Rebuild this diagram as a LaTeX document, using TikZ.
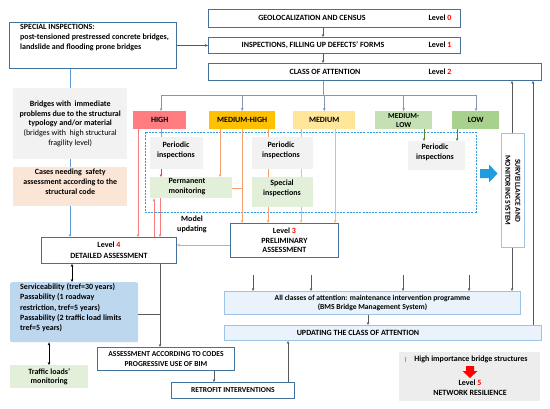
\documentclass[tikz,border=0pt]{standalone}
\usepackage{fontspec}
\setmainfont{Carlito}
\usetikzlibrary{arrows.meta}
\definecolor{bdr}{HTML}{41719C}
\definecolor{lbdr}{HTML}{9DC3E6}
\definecolor{cHigh}{HTML}{FF7C80}
\definecolor{cMH}{HTML}{FFC000}
\definecolor{cMed}{HTML}{FFE699}
\definecolor{cML}{HTML}{C5E0B4}
\definecolor{cLow}{HTML}{A9D18E}
\definecolor{cGray}{HTML}{F2F2F2}
\definecolor{cPeach}{HTML}{FBE5D6}
\definecolor{cGreen}{HTML}{E2F0D9}
\definecolor{cServ}{HTML}{BDD7EE}
\definecolor{cMaint}{HTML}{EAF3FB}
\definecolor{cHimp}{HTML}{EDEDED}
\definecolor{cBranch}{HTML}{8497B0}
\definecolor{cRed}{HTML}{F47C7C}
\definecolor{cRedA}{HTML}{FF3B3B}
\definecolor{cOr}{HTML}{F4A070}
\definecolor{cYel}{HTML}{F2C14E}
\definecolor{cGrn}{HTML}{548235}
\definecolor{cDash}{HTML}{2E9BDA}
\definecolor{cBlueA}{HTML}{1F9BDE}
\definecolor{cLine}{HTML}{595959}
\definecolor{cLblue}{HTML}{5B9BD5}
\definecolor{lvred}{HTML}{FF0000}
\begin{document}
\begin{tikzpicture}[x=1pt,y=-1pt,
  every node/.style={font=\fontsize{8}{10}\selectfont\bfseries, inner sep=0pt},
  box/.style={draw=bdr, line width=0.9pt, fill=white, anchor=north west, align=center},
  lbox/.style={draw=lbdr, line width=0.9pt, anchor=north west, align=center},
  fbox/.style={anchor=north west, align=center},
  tip/.style={-{Stealth[length=3pt,width=2.6pt]}},
  dtip/.style={{Stealth[length=3pt,width=2.6pt]}-{Stealth[length=3pt,width=2.6pt]}},
  gline/.style={draw=cLine, line width=0.6pt},
  bline/.style={draw=cBranch, line width=0.9pt},
  rline/.style={draw=cRed, line width=0.8pt},
  oline/.style={draw=cOr, line width=0.8pt},
  yline/.style={draw=cYel, line width=0.8pt},
]
\useasboundingbox (0,0) rectangle (550,408);

% top boxes
\node[box, minimum width=252, minimum height=18] (geo) at (208,9) {};
\node at (312,18) {GEOLOCALIZATION AND CENSUS};
\node at (440,18) {Level \textcolor{lvred}{0}};
\node[box, minimum width=252, minimum height=16] (insp) at (208,37) {};
\node at (313,45) {INSPECTIONS, FILLING UP DEFECTS’ FORMS};
\node at (440,45) {Level \textcolor{lvred}{1}};
\node[box, minimum width=333, minimum height=17] (cls) at (208,63) {};
\node at (325,72) {CLASS OF ATTENTION};
\node at (440,72) {Level \textcolor{lvred}{2}};

% left column
\node[box, minimum width=167, minimum height=46] (spec) at (9,22) {};
\node[anchor=north west, align=left] at (20,24) {SPECIAL INSPECTIONS:\\post-tensioned prestressed concrete bridges,\\landslide and flooding prone bridges};
\node[fbox, fill=cGray, minimum width=114, minimum height=71, font=\fontsize{8}{9.8}\selectfont\bfseries] (grayb) at (13,88)
  {Bridges with\ \ immediate\\problems due to the structural\\typology and/or material\\\mdseries(bridges with\ \ high structural\\\mdseries fragility level)};
\node[fbox, fill=cPeach, minimum width=114, minimum height=39, font=\fontsize{8}{9.8}\selectfont\bfseries] (peach) at (13,167)
  {Cases needing\ \ safety\\assessment according to the\\structural code\\[-3pt]\strut};
\node[box, minimum width=135, minimum height=26, font=\fontsize{8}{10.8}\selectfont\bfseries] (lev4) at (41,237)
  {Level \textcolor{lvred}{4}\\DETAILED ASSESSMENT};

% categories
\node[fbox, fill=cHigh, minimum width=53, minimum height=18] (high) at (133,111) {HIGH};
\node[fbox, fill=cMH, minimum width=66, minimum height=18] (mh) at (209,111) {MEDIUM-HIGH};
\node[fbox, fill=cMed, minimum width=62, minimum height=18] (med) at (293,111) {MEDIUM};
\node[fbox, fill=cML, minimum width=57, minimum height=18, font=\fontsize{7.6}{8.8}\selectfont\bfseries] (ml) at (375,111) {MEDIUM-\\LOW};
\node[fbox, fill=cLow, minimum width=47, minimum height=18] (low) at (452,111) {LOW};

% dashed area
\draw[cDash, line width=0.9pt, dash pattern=on 2pt off 1.2pt] (145,132) rectangle (476,212);

\node[fbox, fill=cGray, minimum width=53, minimum height=32] (pi1) at (150,137) {};
\node[align=center] at (176,150) {Periodic\\inspections};
\node[fbox, fill=cGray, minimum width=61, minimum height=32] (pi2) at (252,137) {};
\node[align=center] at (281,150) {Periodic\\inspections};
\node[fbox, fill=cGray, minimum width=57, minimum height=29] (pi3) at (408,141) {};
\node[align=center] at (435,152) {Periodic\\inspections};
\node[fbox, fill=cGreen, minimum width=82, minimum height=21] (pm) at (150,177) {};
\node[align=center] at (187,187) {Permanent\\monitoring};
\node[fbox, fill=cGreen, minimum width=61, minimum height=30] (si) at (252,177) {};
\node[align=center] at (282,188) {Special\\inspections};

\node[box, minimum width=108, minimum height=34, font=\fontsize{8}{9.6}\selectfont\bfseries] (lev3) at (230,223)
  {Level \textcolor{lvred}{3}\\PRELIMINARY\\ASSESSMENT};
\node[align=center] (mu) at (192,224) {Model\\updating};

% surveillance
\node[lbox, fill=white, minimum width=23, minimum height=114] (surv) at (501,133) {};
\node[rotate=-90, align=center, font=\fontsize{7.6}{10}\selectfont\bfseries] at (surv.center) {SURVEILLANCE AND\\MONITORING SYSTEM};
\fill[cBlueA] (480,169) -- (489,169) -- (489,164.5) -- (497.5,173.5) -- (489,182.5) -- (489,178) -- (480,178) -- cycle;

% bottom
\node[lbox, fill=cMaint, minimum width=296, minimum height=23, font=\fontsize{7.6}{9.6}\selectfont\bfseries] (maint) at (224,291)
  {All classes of attention: maintenance intervention programme\\(BMS Bridge Management System)};
\node[lbox, fill=cMaint, minimum width=317, minimum height=15] (upd) at (224,325) {};
\node at (358,332.5) {UPDATING THE CLASS OF ATTENTION};

\node[fbox, fill=cServ, minimum width=128, minimum height=60, rounded corners=1.5pt] (serv) at (10,282) {};
\node[anchor=north west, align=left, font=\fontsize{8}{10.2}\selectfont\bfseries] at (20,283.5) {Serviceability (tref=30 years)\\Passability (1 roadway\\restriction, tref=5 years)\\Passability (2 traffic load limits\\tref=5 years)};
\node[fbox, fill=cGreen, minimum width=78, minimum height=23, font=\fontsize{8}{9}\selectfont\bfseries] (traffic) at (10,365) {Traffic loads’\\monitoring};
\node[box, minimum width=137, minimum height=23, font=\fontsize{7.6}{9.4}\selectfont\bfseries] (assess) at (97,347)
  {ASSESSMENT ACCORDING TO CODES\\PROGRESSIVE USE OF BIM};
\node[box, minimum width=123, minimum height=16, font=\fontsize{7.6}{9}\selectfont\bfseries] (retro) at (171,382) {RETROFIT INTERVENTIONS};

\node[fbox, fill=cHimp, minimum width=141, minimum height=49] (himp) at (399,352) {};
\node (himpt) at (471,359) {High importance bridge structures};
\draw[cLine!60, line width=0.4pt] (405,356.5) -- (405,361.5);
\fill[lvred] (466,366) -- (474,366) -- (474,371) -- (477.5,371) -- (470,378) -- (462.5,371) -- (466,371) -- cycle;
\node[align=center] at (470,388) {Level \textcolor{lvred}{5}\\NETWORK RESILIENCE};

% ---- connectors ----
\draw[gline, tip] (geo.south -| 323,0) -- (insp.north -| 323,0);
\draw[gline, tip] (insp.south -| 323,0) -- (cls.north -| 323,0);
\draw[gline, tip, line width=0.8pt] (spec.east) -- (insp.west);
\draw[draw=cLblue, line width=0.9pt] (spec.south -| 70,0) -- (grayb.north -| 70,0);
\draw[draw=cLblue, line width=0.9pt] (grayb.south -| 70,0) -- (peach.north -| 70,0);
\draw[draw=cLblue, line width=0.9pt, tip] (peach.south -| 70,0) -- (lev4.north -| 70,0);

\coordinate (brL) at (161,95);
\coordinate (brR) at (476,95);
\draw[bline] (cls.south -| 323,0) -- (brL -| 323,0);
\draw[bline] (brL) -- (brR);
\draw[bline, tip] (brL) -- (high.north -| brL);
\draw[bline, tip] (brL -| mh.north) -- (mh.north);
\draw[bline, tip] (brL -| med.north) -- (med.north);
\draw[bline, tip] (brL -| ml.north) -- (ml.north);
\draw[bline, tip] (brR) -- (low.north -| brR);

% HIGH
\draw[rline, tip] (high.south -| 138,0) -- (lev4.north -| 138,0);
\draw[rline] (high.south -| 161,0) -- (pi1.north -| 161,0);
\draw[draw=cRedA, line width=0.8pt, tip] (pi1.south -| 161,0) -- (pm.north -| 161,0);
\draw[rline, tip] (lev4.north -| 154,0) -- (pm.south -| 154,0);
\draw[rline, tip] (pm.south -| 160,0) -- (lev4.north -| 160,0);
% MEDIUM-HIGH
\draw[oline, tip] (mh.south -| 220,0) -- (pm.north -| 220,0);
\draw[oline, tip] (mh.south -| 242,0) -- (lev3.north -| 242,0);
\draw[oline] (pm.east |- 0,188) -- (242,188);
\draw[oline] (mh.south -| 268,0) -- (pi2.north -| 268,0);
\draw[oline] (pi2.south -| 268,0) -- (si.north -| 268,0);
\draw[oline, tip] (si.south -| 268,0) -- (lev3.north -| 268,0);
% MEDIUM
\draw[yline] (med.south -| 301,0) -- (pi2.north -| 301,0);
\draw[yline] (pi2.south -| 301,0) -- (si.north -| 301,0);
\draw[yline, tip] (si.south -| 301,0) -- (lev3.north -| 301,0);
\draw[yline, tip] (med.south -| 335,0) -- (lev3.north -| 335,0);
% MEDIUM-LOW, LOW
\draw[draw=cGrn, line width=0.6pt, tip] (ml.south -| 424,0) -- (pi3.north -| 424,0);
\draw[draw=cGrn, line width=0.6pt, tip] (low.south -| 457,0) -- (pi3.north -| 457,0);
% level 3 -> level 4
\draw[oline, tip] (lev3.west |- 0,245) -- (lev4.east |- 0,245);

% right side
\draw[gline, tip] (surv.north -| 512,0) -- (cls.south -| 512,0);
\draw[gline, tip] (upd.north -| 533,0) -- (cls.south -| 533,0);
\draw[gline, tip] (surv.south -| 512,0) -- (maint.north -| 512,0);
\foreach \xx in {253,311,403,469} {
  \coordinate (f\xx) at (\xx,275);
  \draw[gline, tip] (f\xx) -- (maint.north -| f\xx);
}
\draw[gline, tip] (maint.south -| 368,0) -- (upd.north -| 368,0);
\draw[gline, tip] (retro.north -| 288,0) -- (upd.south -| 288,0);

% left bottom
\draw[gline, tip] (lev4.south -| 160,0) -- (assess.north -| 160,0);
\draw[gline] (serv.east |- 0,314) -- (160,314);
\draw[gline, dtip, draw=black] (lev4.south -| 72,0) -- (serv.north -| 72,0);
\draw[gline, dtip, draw=black] (serv.south -| 49,0) -- (traffic.north -| 49,0);
\draw[gline, tip] (assess.south -| 214,0) -- (retro.north -| 214,0);
\end{tikzpicture}
\end{document}
